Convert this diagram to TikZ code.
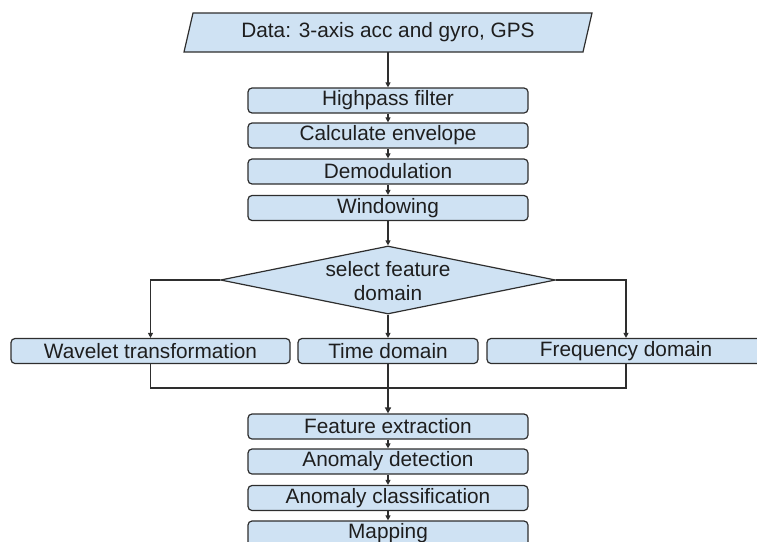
\documentclass[tikz,border=0pt]{standalone}
\usepackage{fontspec}
\setmainfont{Liberation Sans}
\usetikzlibrary{shapes.geometric,arrows.meta}
\definecolor{boxfill}{HTML}{CFE2F3}
\definecolor{edge}{HTML}{2E2E2E}
\definecolor{ink}{HTML}{1E1E1E}
\begin{document}
\begin{tikzpicture}[x=1pt,y=-1pt,
  every node/.style={font=\fontsize{20.8}{24}\selectfont, text=ink},
  stepbox/.style={draw=edge, fill=boxfill, line width=1.2pt, rounded corners=4pt,
    minimum height=25pt, inner sep=0pt},
  wide/.style={stepbox, minimum width=280pt},
  decision/.style={diamond, draw=edge, fill=boxfill, line width=1.2pt, inner sep=0pt,
    minimum width=335pt, minimum height=68pt},
  flow/.style={draw=edge, line width=1.1pt, -{Triangle[length=5pt,width=5pt]}},
  link/.style={draw=edge, line width=1.1pt},
  heavy/.style={draw=edge, line width=2.2pt, -{Triangle[length=6pt,width=6pt]}}]
\useasboundingbox (0,0) rectangle (757,541);
\clip (0,0) rectangle (757,541);

% input parallelogram
\filldraw[draw=edge, fill=boxfill, line width=1.2pt]
  (193,13) -- (592,13) -- (583,52) -- (184,52) -- cycle;
\node[minimum height=39pt, inner sep=0pt] (data) at (388,32.5) {Data: 3-axis acc and gyro, GPS};

% preprocessing chain
\node[wide] (hp)   at (388,100.5) {Highpass filter};
\node[wide] (env)  at (388,135.5) {Calculate envelope};
\node[wide] (dem)  at (388,171.5) {Demodulation};
\node[wide] (win)  at (388,208)   {Windowing};

% decision
\node[decision] (sel) at (388,280) {};
\node[align=center, font=\fontsize{20.8}{24}\selectfont] (seltext) at (388,281) {select feature\\domain};

% feature domains
\node[stepbox, minimum width=279pt] (wav)  at (150.5,351) {Wavelet transformation};
\node[stepbox, minimum width=180pt] (time) at (388,351)   {Time domain};
\node[stepbox, minimum width=278pt] (freq) at (626,351)   {Frequency domain};

% analysis chain
\node[wide] (feat) at (388,426.5) {Feature extraction};
\node[wide] (anod) at (388,461.5) {Anomaly detection};
\node[wide] (anoc) at (388,498)   {Anomaly classification};
\node[wide] (map)  at (388,533.5) {Mapping};

\coordinate (merge) at (388,388);

% connectors
\draw[flow] (data.south) -- (hp.north);
\draw[flow] (hp.south) -- (env.north);
\draw[flow] (env.south) -- (dem.north);
\draw[flow] (dem.south) -- (win.north);
\draw[flow] (win.south) -- (sel.north);
\draw[flow] (sel.west) -| (wav.north);
\draw[flow] (sel.east) -| (freq.north);
\draw[flow] (sel.south) -- (time.north);
\draw[link] (wav.south) |- (merge) -| (freq.south);
\draw[link] (time.south) -- (merge);
\draw[heavy] (merge) -- (feat.north);
\draw[flow] (feat.south) -- (anod.north);
\draw[flow] (anod.south) -- (anoc.north);
\draw[flow] (anoc.south) -- (map.north);
\end{tikzpicture}
\end{document}
